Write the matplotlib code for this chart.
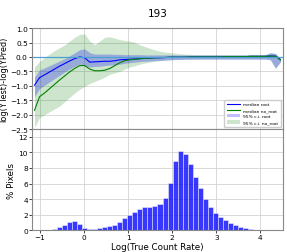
import numpy as np
import matplotlib
matplotlib.use('Agg')
import matplotlib.pyplot as plt

# Bin range of log(true count rate), 50 bins
x_min, x_max, n_bins = -1.18, 4.51, 50

# % pixels per bin
pct_pixels = [0.0, 0.0, 0.03, 0.1, 0.2, 0.4, 0.72, 1.08, 1.18, 0.82,
              0.32, 0.18, 0.18, 0.26, 0.36, 0.5, 0.73, 1.12, 1.54, 1.97,
              2.39, 2.74, 2.95, 3.05, 3.1, 3.33, 4.1, 6.03, 8.85, 10.2,
              9.85, 8.5, 6.9, 5.38, 4.02, 2.95, 2.2, 1.65, 1.3, 0.95,
              0.7, 0.48, 0.3, 0.17, 0.07, 0.02, 0.0, 0.0, 0.0, 0.0]

# median of log(YTest)-log(YPred) per bin
med_root = [-0.98, -0.72, -0.62, -0.52, -0.42, -0.32, -0.23, -0.14, -0.06, 0.0,
            -0.03, -0.18, -0.17, -0.16, -0.15, -0.15, -0.13, -0.1, -0.09, -0.08,
            -0.07, -0.06, -0.05, -0.04, -0.03, -0.03, -0.02, -0.01, -0.01, -0.01,
            -0.01, 0.0, 0.0, 0.0, 0.0, 0.0, 0.0, 0.0, 0.01, 0.01,
            0.01, 0.01, 0.01, 0.02, 0.02, 0.02, 0.02, 0.03, 0.03, -0.1]
med_noroot = [-1.85, -1.38, -1.25, -1.1, -0.95, -0.8, -0.66, -0.52, -0.4, -0.3,
              -0.3, -0.42, -0.48, -0.48, -0.46, -0.4, -0.3, -0.2, -0.13, -0.1,
              -0.08, -0.06, -0.05, -0.04, -0.03, -0.02, -0.02, -0.01, -0.01, -0.01,
              -0.01, 0.0, 0.0, 0.0, 0.0, 0.0, 0.0, 0.0, 0.01, 0.01,
              0.01, 0.01, 0.01, 0.02, 0.02, 0.02, 0.02, 0.03, 0.02, -0.1]

# 95% confidence intervals
root_lo = [-1.38, -1.1, -0.98, -0.87, -0.75, -0.64, -0.52, -0.42, -0.33, -0.25,
           -0.3, -0.35, -0.33, -0.32, -0.3, -0.28, -0.27, -0.25, -0.22, -0.2,
           -0.18, -0.16, -0.15, -0.14, -0.13, -0.12, -0.11, -0.1, -0.09, -0.09,
           -0.08, -0.08, -0.08, -0.08, -0.08, -0.08, -0.08, -0.08, -0.08, -0.08,
           -0.08, -0.08, -0.08, -0.08, -0.08, -0.08, -0.08, -0.1, -0.4, -0.17]
root_hi = [-0.7, -0.45, -0.38, -0.3, -0.22, -0.14, -0.06, 0.04, 0.14, 0.25,
           0.28, 0.15, 0.1, 0.1, 0.1, 0.1, 0.09, 0.09, 0.08, 0.08,
           0.08, 0.08, 0.07, 0.07, 0.07, 0.07, 0.07, 0.07, 0.07, 0.07,
           0.07, 0.07, 0.07, 0.07, 0.07, 0.07, 0.07, 0.07, 0.07, 0.07,
           0.07, 0.07, 0.07, 0.07, 0.07, 0.07, 0.08, 0.15, 0.12, -0.05]
noroot_lo = [-2.45, -2.1, -2.0, -1.9, -1.8, -1.7, -1.55, -1.4, -1.25, -1.12,
             -1.02, -0.92, -0.85, -0.78, -0.7, -0.6, -0.55, -0.5, -0.42, -0.35,
             -0.3, -0.25, -0.21, -0.18, -0.15, -0.13, -0.11, -0.1, -0.09, -0.08,
             -0.08, -0.08, -0.07, -0.07, -0.07, -0.07, -0.07, -0.07, -0.07, -0.07,
             -0.07, -0.07, -0.07, -0.07, -0.07, -0.07, -0.07, -0.1, -0.38, -0.16]
noroot_hi = [-0.35, -0.15, -0.02, 0.1, 0.22, 0.32, 0.42, 0.55, 0.68, 0.78,
             0.8, 0.55, 0.42, 0.55, 0.68, 0.7, 0.65, 0.6, 0.57, 0.55,
             0.5, 0.42, 0.36, 0.3, 0.24, 0.2, 0.17, 0.15, 0.13, 0.11,
             0.1, 0.09, 0.08, 0.08, 0.08, 0.08, 0.08, 0.08, 0.08, 0.08,
             0.08, 0.08, 0.08, 0.08, 0.08, 0.08, 0.08, 0.14, 0.12, -0.05]

edges = np.linspace(x_min, x_max, n_bins + 1)
centers = 0.5 * (edges[:-1] + edges[1:])
width = edges[1] - edges[0]

fig = plt.figure(figsize=(2.87, 2.53), dpi=100)
ax1 = fig.add_axes([0.1115, 0.486, 0.8745, 0.399])
ax2 = fig.add_axes([0.1115, 0.0858, 0.8745, 0.4002], sharex=ax1)

# top: residuals
ax1.fill_between(centers, noroot_lo, noroot_hi, color='green', alpha=0.2,
                 linewidth=0, label='95% c.i. no_root')
ax1.fill_between(centers, root_lo, root_hi, color='blue', alpha=0.25,
                 linewidth=0, label='95% c.i. root')
ax1.plot(centers, med_root, color='blue', linewidth=0.8, label='median root')
ax1.plot(centers, med_noroot, color='green', linewidth=0.8, label='median no_root')
ax1.axhline(0, color='#4d9fd6', linewidth=0.9)
ax1.set_ylim(-2.5, 1.0)
ax1.set_yticks(np.arange(-2.5, 1.01, 0.5))
ax1.set_ylabel('log(YTest)-log(YPred)', fontsize=5.9, labelpad=1.5)
ax1.set_title('193', fontsize=7.5, pad=9)
ax1.tick_params(labelbottom=False)

handles, labels = ax1.get_legend_handles_labels()
order = [2, 3, 1, 0]
ax1.legend([handles[i] for i in order], [labels[i] for i in order],
           loc='lower right', fontsize=3.2, handlelength=3, framealpha=1,
           borderpad=0.5, labelspacing=0.45)

# bottom: histogram
ax2.bar(centers, pct_pixels, width=width, color='blue', alpha=0.78,
        edgecolor='white', linewidth=0.4)
ax2.set_ylim(0, 13)
ax2.set_yticks(np.arange(0, 13, 2))
ax2.set_xlim(x_min, x_max)
ax2.set_xticks(np.arange(-1, 5, 1))
ax2.set_ylabel('% Pixels', fontsize=6.3, labelpad=2)
ax2.set_xlabel('Log(True Count Rate)', fontsize=6.3, labelpad=1)

for ax in (ax1, ax2):
    ax.grid(True, color='#d3d3d3', linewidth=0.6)
    ax.set_axisbelow(True)
    ax.tick_params(labelsize=5.3, length=2, width=0.5, pad=1)
    for sp in ax.spines.values():
        sp.set_color('#888888')
        sp.set_linewidth(0.8)

fig.savefig('out.png', dpi=100)
